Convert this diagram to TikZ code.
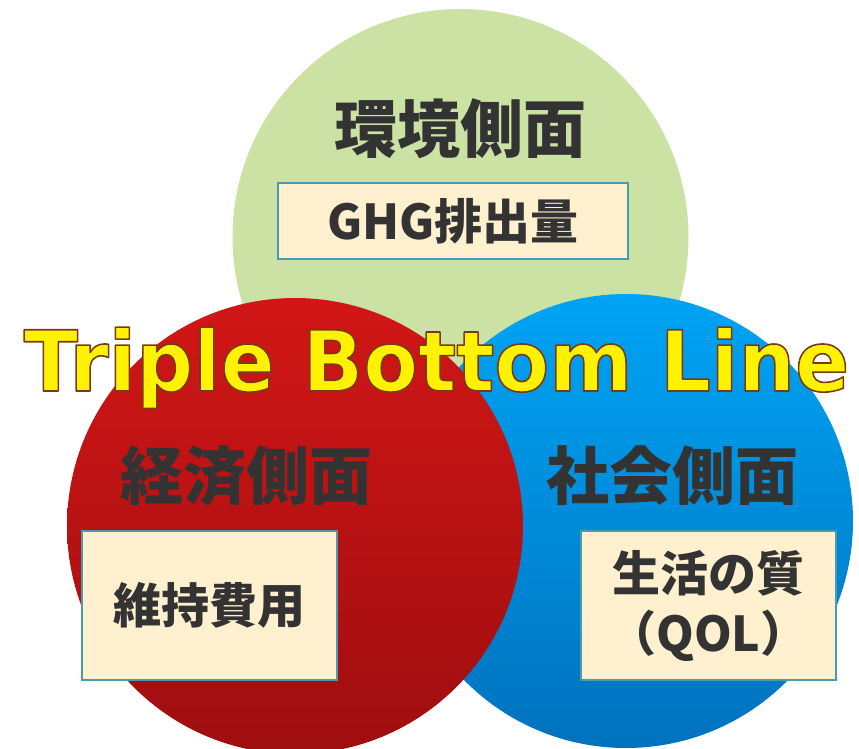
\documentclass[tikz,border=0pt]{standalone}
\usepackage{fontspec}
\newfontfamily\tblfont{DejaVu Sans Bold}
\newfontfamily\jpfont{Noto Sans CJK JP}
\definecolor{envgreen}{HTML}{CCE2A4}
\definecolor{redtop}{HTML}{D21616}
\definecolor{redbot}{HTML}{9E0E10}
\definecolor{bluetop}{HTML}{00A4F4}
\definecolor{bluebot}{HTML}{0072BE}
\definecolor{boxfill}{HTML}{FFF0CF}
\definecolor{boxline}{HTML}{4B9BAE}
\definecolor{txtgray}{HTML}{333333}
\newcommand{\outlinedtext}[1]{\special{pdf:literal direct 1 j 2 Tr 1.6 w 0.478 0.227 0.063 RG}#1\special{pdf:literal direct 0 Tr}}
\tikzset{
  sphere/.style={circle, inner sep=0pt, outer sep=0pt, minimum size=456pt},
  heading/.style={font=\jpfont\bfseries\fontsize{63}{70}\selectfont, text=txtgray, inner sep=0pt},
  itembox/.style={draw=boxline, line width=2pt, fill=boxfill, inner sep=0pt,
    text=txtgray, align=center, font=\jpfont\bfseries\fontsize{48}{60}\selectfont},
}
\begin{document}
\begin{tikzpicture}[x=1pt,y=-1pt]
\useasboundingbox (0,0) rectangle (859,749);
\clip (0,0) rectangle (859,749);
% circles
\node[sphere, fill=envgreen] (env) at (460.5,237) {};
\node[sphere, minimum size=454pt, top color=bluetop, bottom color=bluebot] (soc) at (626,521) {};
\node[sphere, top color=redtop, bottom color=redbot] (eco) at (295,526) {};
% headings
\node[heading] (envh) at (460,129) {環境側面};
\node[heading] (ecoh) at (246,476) {経済側面};
\node[heading] (soch) at (672,476) {社会側面};
% boxes
\node[itembox, minimum width=350pt, minimum height=76pt] (ghg) at (453,221) {\raisebox{5pt}{GHG排出量}};
\node[itembox, minimum width=255pt, minimum height=149pt] (cost) at (209.5,605.5) {\raisebox{5pt}{維持費用}};
\node[itembox, minimum width=255pt, minimum height=149pt] (qol) at (708.5,605.5) {生活の質\\（QOL）};
% title
\node[anchor=base, inner sep=0pt, text=yellow, font=\tblfont\fontsize{84}{90}\selectfont] (tbl) at (436.5,391)
  {\scalebox{0.95}[1]{\outlinedtext{Triple Bottom Line}}};
\end{tikzpicture}
\end{document}
